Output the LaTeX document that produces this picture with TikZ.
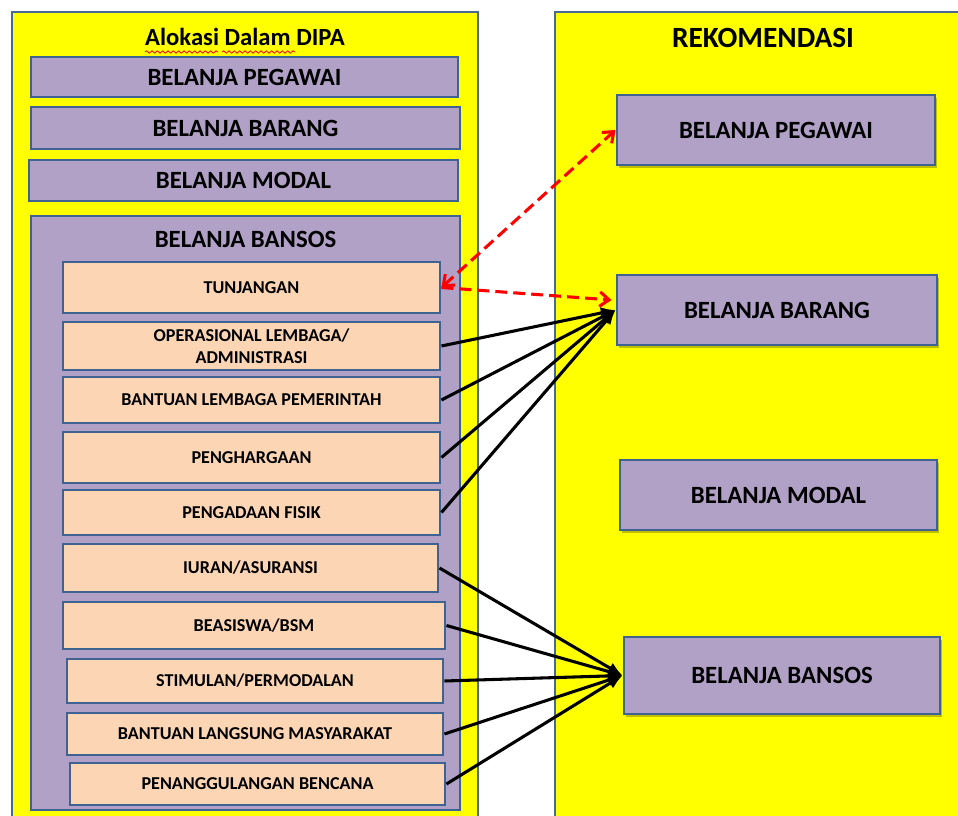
\documentclass[tikz,border=0pt]{standalone}
\usepackage{fontspec}
\setmainfont{Carlito}
\usetikzlibrary{arrows.meta,shadows,decorations.pathmorphing}
\definecolor{boxline}{RGB}{62,98,145}
\definecolor{panelline}{RGB}{70,105,150}
\definecolor{lilac}{RGB}{178,161,199}
\definecolor{peach}{RGB}{252,213,181}
\definecolor{panelfill}{RGB}{255,255,0}
\definecolor{movedred}{RGB}{255,0,0}

\begin{document}
\begin{tikzpicture}
[x=0.75pt,y=-0.75pt,
wh/.style 2 args={minimum width=#1*0.75pt,minimum height=#2*0.75pt},
panel/.style={draw=panelline,line width=1.5pt,fill=panelfill},
bigbox/.style={draw=boxline,line width=2.2pt,fill=lilac,inner sep=0pt,
  font=\bfseries\fontsize{18.6}{21}\selectfont},
subbox/.style={draw=boxline,line width=2.2pt,fill=peach,inner sep=0pt,
  align=center,font=\bfseries\fontsize{13.6}{16.5}\selectfont},
recbox/.style={bigbox,drop shadow={shadow xshift=1.5pt,shadow yshift=-2.5pt,
  fill=black,opacity=0.25}},
feed/.style={line width=2.3pt,-{Latex[length=11pt,width=9pt]}},
moved/.style={draw=movedred,line width=2.3pt,dash pattern=on 9pt off 4.5pt},
barb/.tip={Straight Barb[length=7pt,width=11pt]},
squiggle/.style={movedred,line width=0.6pt,decorate,
  decoration={snake,amplitude=0.9pt,segment length=4pt}}]
\useasboundingbox (0,0) rectangle (958,816);
\clip (0,0) rectangle (958,816);

% panels
\draw [panel] (12,12) rectangle (478,830);
\draw [panel] (555,12) rectangle (975,830);

\node (dipa) at (245,37) [font=\bfseries\fontsize{18.5}{21}\selectfont] {Alokasi Dalam DIPA};
\draw [squiggle] (145,52) -- (218,52);
\draw [squiggle] (222,52) -- (295,52);
\node (rekom) at (763,38) [font=\bfseries\fontsize{22}{24}\selectfont] {REKOMENDASI};

% allocation in DIPA
\node (lpeg) [bigbox,wh={427}{40}] at (244.5,77) {BELANJA PEGAWAI};
\node (lbar) [bigbox,wh={429}{42}] at (245.5,128) {BELANJA BARANG};
\node (lmod) [bigbox,wh={429}{41}] at (243.5,180.5) {BELANJA MODAL};
\node (lbans) [bigbox,wh={429}{594}] at (245.5,513) {};
\node (lbanstitle) [font=\bfseries\fontsize{18.6}{21}\selectfont] at (245.5,239) {BELANJA BANSOS};

\node (tunj) [subbox,wh={377}{51}] at (251.5,287.5) {TUNJANGAN};
\node (oper) [subbox,wh={377}{48}] at (251.5,346) {OPERASIONAL LEMBAGA/\\ADMINISTRASI};
\node (bantl) [subbox,wh={377}{46}] at (251.5,400) {BANTUAN LEMBAGA PEMERINTAH};
\node (pengh) [subbox,wh={377}{51}] at (251.5,457.5) {PENGHARGAAN};
\node (penga) [subbox,wh={377}{45}] at (251.5,512.5) {PENGADAAN FISIK};
\node (iuran) [subbox,wh={375}{48}] at (250.5,568) {IURAN/ASURANSI};
\node (beas) [subbox,wh={382}{47}] at (254,625.5) {BEASISWA/BSM};
\node (stim) [subbox,wh={376}{44}] at (255,681) {STIMULAN/PERMODALAN};
\node (bls) [subbox,wh={376}{42}] at (255,734) {BANTUAN LANGSUNG MASYARAKAT};
\node (penang) [subbox,wh={375}{42}] at (257.5,784) {PENANGGULANGAN BENCANA};

% recommendation
\node (rpeg) [recbox,wh={318}{70}] at (776,130) {BELANJA PEGAWAI};
\node (rbar) [recbox,wh={320}{70}] at (777,310) {BELANJA BARANG};
\node (rmod) [recbox,wh={317}{70}] at (778.5,495) {BELANJA MODAL};
\node (rbans) [recbox,wh={316}{77}] at (782,675.5) {BELANJA BANSOS};

% mapping
\draw [moved,barb-barb] (tunj.east) -- (rpeg.west);
\draw [moved,-barb] (tunj.east) -- ([xshift=-3pt,yshift=7.5pt]rbar.west);
\foreach \src in {oper,bantl,pengh,penga}
  \draw [feed] (\src.east) -- (rbar.west);
\foreach \src in {iuran,beas,stim,bls,penang}
  \draw [feed] (\src.east) -- (rbans.west);
\end{tikzpicture}
\end{document}
